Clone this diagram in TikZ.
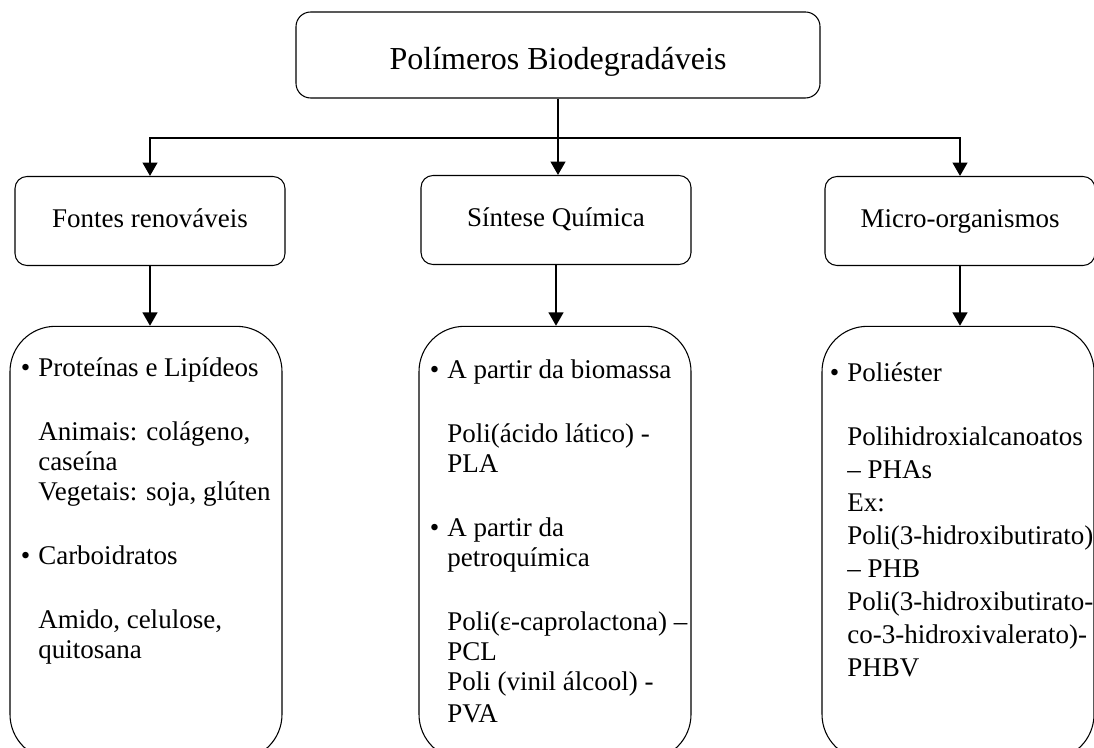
\documentclass[tikz,border=0pt]{standalone}
\usepackage{fontspec}
\setmainfont{Liberation Serif}
\usetikzlibrary{arrows.meta}

\begin{document}
\begin{tikzpicture}[
    x=0.75pt, y=-0.75pt,
    titlebox/.style={rectangle, draw=black, line width=0.8pt, rounded corners=11pt, minimum width=393pt, minimum height=64.5pt, text height=22pt, text depth=0pt, align=center, font=\fontsize{24}{28}\selectfont},
    groupbox/.style={rectangle, draw=black, line width=0.8pt, rounded corners=9pt, minimum width=202.5pt, minimum height=66.75pt, text height=14pt, text depth=4pt, align=center, font=\fontsize{20.25}{22.5}\selectfont},
    listbox/.style={rectangle, draw=black, line width=0.8pt, rounded corners=34pt, minimum width=204pt, minimum height=325pt},
    listtext/.style={anchor=north west, inner sep=0pt, align=left, font=\fontsize{20.25}{22.5}\selectfont},
    link/.style={-{Triangle[width=11pt, length=10pt]}, line width=1.5pt}
]
    \useasboundingbox (0,0) rectangle (1094,748);

    % Top level
    \node[titlebox] (poly) at (558,55) {Polímeros Biodegradáveis};

    % Sources
    \node[groupbox] (renov) at (150,221) {Fontes renováveis};
    \node[groupbox] (sint) at (556,220) {Síntese Química};
    \node[groupbox] (micro) at (960,221) {Micro-organismos};

    % Lists
    \node[listbox] (renovlist) at (146,543) {};
    \node[listbox] (sintlist) at (555,543) {};
    \node[listbox] (microlist) at (958,543) {};

    \node[listtext] (renovtext) at (38,357) {\llap{\textbullet\hspace{6pt}}Proteínas e Lipídeos\\[25.5pt]
        Animais: colágeno,\\ caseína\\ Vegetais: soja, glúten\\[25.5pt]
        \llap{\textbullet\hspace{6pt}}Carboidratos\\[25.5pt]
        Amido, celulose,\\ quitosana};
    \node[listtext] (sinttext) at (447,359) {\llap{\textbullet\hspace{6pt}}A partir da biomassa\\[25.5pt]
        Poli(ácido lático) -\\ PLA\\[25.5pt]
        \llap{\textbullet\hspace{6pt}}A partir da\\ petroquímica\\[25.5pt]
        Poli(ε-caprolactona) –\\ PCL\\ Poli (vinil álcool) -\\[2pt] PVA};
    \node[listtext, font=\fontsize{20.25}{24.75}\selectfont] (microtext) at (847,362) {\llap{\textbullet\hspace{6pt}}Poliéster\\[23.25pt]
        Polihidroxialcanoatos\\ – PHAs\\ Ex:\\ Poli(3-hidroxibutirato)\\ – PHB\\
        Poli(3-hidroxibutirato-\\ co-3-hidroxivalerato)-\\ PHBV};

    % Connections
    \coordinate (bus) at (558,138);
    \draw[line width=1.5pt] (poly.south) -- (bus);
    \draw[link] (bus) -- (bus |- sint.north);
    \draw[link] (bus) -| (renov.north);
    \draw[link] (bus) -| (micro.north);

    \draw[link] (renov.south) -- (renov.south |- renovlist.north);
    \draw[link] (sint.south) -- (sint.south |- sintlist.north);
    \draw[link] (micro.south) -- (micro.south |- microlist.north);
\end{tikzpicture}
\end{document}
